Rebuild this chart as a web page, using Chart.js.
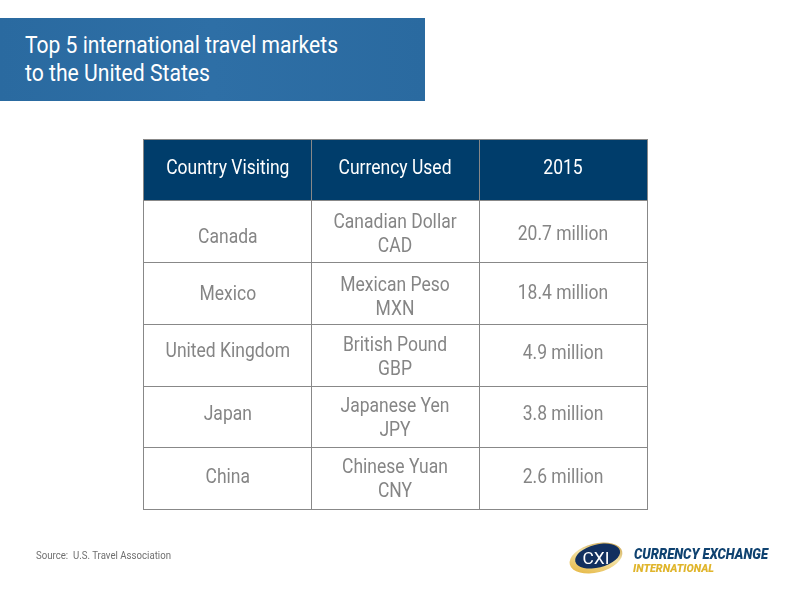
<!DOCTYPE html>
<html>
<head>
<meta charset="utf-8">
<title>Top 5 international travel markets</title>
<script src="https://cdn.jsdelivr.net/npm/chart.js@4/dist/chart.umd.min.js"></script>
<style>
  html, body { margin: 0; padding: 0; background: #fff; }
  #page { position: relative; width: 800px; height: 600px; overflow: hidden; }
  #tableChart { position: absolute; left: 0; top: 0; }
  #banner { position: absolute; left: 0; top: 18px; width: 425px; height: 83px; background: linear-gradient(90deg, #2a6aa0, #2e6fa6 50%, #2a6aa0); }
  #banner svg, #logo { position: absolute; left: 0; top: 0; }
</style>
</head>
<body>
<div id="page">
  <div id="banner">
    <svg width="425" height="83" font-family="Roboto" font-size="24" fill="#fff">
      <text x="25" y="35" textLength="313" lengthAdjust="spacingAndGlyphs">Top 5 international travel markets</text>
      <text x="25" y="63" textLength="185" lengthAdjust="spacingAndGlyphs">to the United States</text>
    </svg>
  </div>
  <canvas id="tableChart" width="800" height="600"></canvas>
  <svg id="logo" width="800" height="600">
    <defs>
      <linearGradient id="ring" x1="0" y1="1" x2="1" y2="0">
        <stop offset="0" stop-color="#e3ae2c"/>
        <stop offset="0.55" stop-color="#f3e2a6"/>
        <stop offset="1" stop-color="#b98a2a"/>
      </linearGradient>
    </defs>
    <text x="36" y="559" font-family="Roboto" font-size="11" fill="#6f6f6f" textLength="135" lengthAdjust="spacingAndGlyphs" xml:space="preserve">Source:  U.S. Travel Association</text>
    <g transform="rotate(-14 596 558)">
      <ellipse cx="596" cy="558" rx="27" ry="14.5" fill="url(#ring)"/>
      <ellipse cx="598" cy="556.5" rx="23" ry="11.5" fill="#12305f"/>
    </g>
    <text x="596" y="564" text-anchor="middle" font-family="Roboto" font-size="17" fill="#fff" textLength="27" lengthAdjust="spacingAndGlyphs">CXI</text>
    <text x="634" y="559" font-family="Roboto" font-weight="900" font-style="italic" font-size="14" fill="#0f4270" textLength="134" lengthAdjust="spacingAndGlyphs">CURRENCY EXCHANGE</text>
    <text x="633" y="572" font-family="Roboto" font-weight="900" font-style="italic" font-size="11.5" fill="#e0b52c" textLength="81" lengthAdjust="spacingAndGlyphs">INTERNATIONAL</text>
  </svg>
</div>
<script>
const columnHeaders = ['Country Visiting', 'Currency Used', '2015'];
const countries = ['Canada', 'Mexico', 'United Kingdom', 'Japan', 'China'];
const currencies = ['Canadian Dollar', 'Mexican Peso', 'British Pound', 'Japanese Yen', 'Chinese Yuan'];
const currencyCodes = ['CAD', 'MXN', 'GBP', 'JPY', 'CNY'];
const visitorsMillions = [20.7, 18.4, 4.9, 3.8, 2.6];

const rowLabels = ['header', ...countries];
const HEADER_COLOR = '#003d6b';
const TEXT_COLOR = '#858585';
const LINE_COLOR = '#888888';
const CONDENSE = 0.875;

// small nudges, the source table text is not quite centred in its cells
const columnNudge = [0.8, 0, 0];
const countryNudge = [6, 2, -3, -2, -0.5];
const valueNudge = [3, 1, -1, -2, -0.5];
const currencyNudge = [3, 5, 3, 2, 1.5];

function cellText(ctx, text, x, y, size, color) {
  ctx.save();
  ctx.translate(x, y);
  ctx.scale(CONDENSE, 1);
  ctx.font = `${size}px Roboto`;
  ctx.fillStyle = color;
  ctx.textAlign = 'center';
  ctx.textBaseline = 'middle';
  ctx.fillText(text, 0, 0);
  ctx.restore();
}

const tableText = {
  id: 'tableText',
  afterDraw(chart) {
    const { ctx, scales } = chart;
    const colX = (i) => scales.x.getPixelForValue(i + 0.5) + columnNudge[i];

    columnHeaders.forEach((label, i) => {
      cellText(ctx, label, colX(i), scales.y.getPixelForValue(0) - 1, 20, '#ffffff');
    });
    countries.forEach((country, i) => {
      const rowY = scales.y.getPixelForValue(i + 1);
      cellText(ctx, country, colX(0), rowY + countryNudge[i], 20, TEXT_COLOR);
      cellText(ctx, currencies[i], colX(1), rowY + currencyNudge[i] - 12, 20, TEXT_COLOR);
      cellText(ctx, currencyCodes[i], colX(1), rowY + currencyNudge[i] + 12, 20, TEXT_COLOR);
      cellText(ctx, `${visitorsMillions[i]} million`, colX(2), rowY + valueNudge[i], 20, TEXT_COLOR);
    });
  }
};

function initChart() {
  const ctx = document.getElementById('tableChart').getContext('2d');
  const rowColors = rowLabels.map((_, i) => (i === 0 ? HEADER_COLOR : '#ffffff'));

  new Chart(ctx, {
    type: 'bar',
    data: {
      labels: rowLabels,
      datasets: columnHeaders.map((header) => ({
        label: header,
        data: rowLabels.map(() => 1),
        backgroundColor: rowColors,
        borderWidth: 0,
        barPercentage: 1,
        categoryPercentage: 1
      }))
    },
    plugins: [tableText],
    options: {
      indexAxis: 'y',
      responsive: false,
      animation: false,
      layout: { padding: { left: 143, right: 153, top: 139, bottom: 90.5 } },
      plugins: { legend: { display: false }, title: { display: false }, tooltip: { enabled: false } },
      scales: {
        x: {
          stacked: true,
          min: 0,
          max: columnHeaders.length,
          ticks: { display: false, stepSize: 1 },
          grid: { color: LINE_COLOR, lineWidth: 1, drawTicks: false, z: 1 },
          border: { display: false }
        },
        y: {
          stacked: true,
          ticks: { display: false },
          grid: { color: LINE_COLOR, lineWidth: 1, drawTicks: false, offset: true, z: 1 },
          border: { display: false }
        }
      }
    }
  });
}

document.addEventListener('DOMContentLoaded', initChart);
</script>
</body>
</html>
